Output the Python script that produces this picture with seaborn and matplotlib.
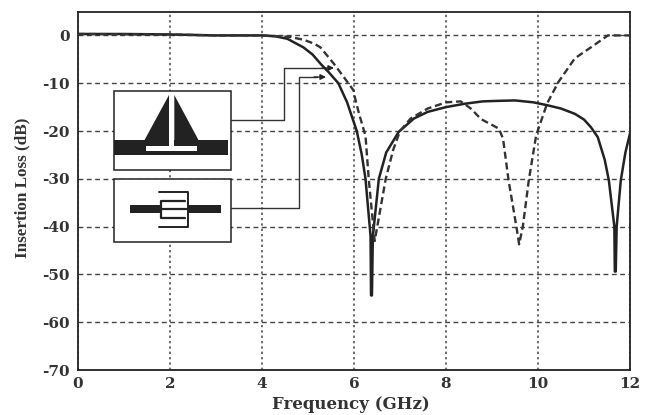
import matplotlib
matplotlib.use("Agg")
import matplotlib.pyplot as plt
import seaborn as sns
from matplotlib.patches import Polygon, Rectangle

freq_solid = [0, 1, 2, 3, 4, 4.3, 4.55, 4.9, 5.1, 5.27, 5.45, 5.66, 5.85, 6.06, 6.17, 6.25, 6.36, 6.37, 6.39, 6.41, 6.54, 6.7, 6.97, 7.3, 7.6,
              8, 8.4, 8.8, 9.1, 9.5, 9.9, 10.2, 10.5, 10.8, 11.0, 11.15, 11.3, 11.45, 11.54, 11.66, 11.67, 11.69, 11.71, 11.8, 11.9, 12]
loss_solid = [0.3, 0.3, 0.2, 0, 0, -0.2, -0.7, -2.5, -4, -5.9, -7.7, -10, -14, -20, -25, -30, -42, -54.4, -54.4, -42, -30, -24.5, -20.2, -17.4, -16,
              -15, -14.3, -13.8, -13.7, -13.6, -14, -14.6, -15.3, -16.4, -17.6, -19.2, -21.3, -26, -30.3, -40, -49.4, -49.4, -40, -30.3, -24.5, -20.5]

freq_dash = [0, 2, 3, 4, 4.6, 4.9, 5.13, 5.27, 5.56, 5.8, 5.99, 6.02, 6.11, 6.25, 6.32, 6.45, 6.69, 6.85, 7, 7.23, 7.6,
             8, 8.32, 8.54, 8.76, 9.15, 9.24, 9.36, 9.53, 9.59, 9.67, 9.8, 9.96, 10.2, 10.44, 10.8, 11.15, 11.52, 12]
loss_dash = [0.3, 0.2, 0, 0, -0.3, -0.9, -1.7, -2.5, -5.9, -9, -11.5, -13, -16.4, -21, -30, -43, -30, -24, -20, -17.4, -15.3,
             -14, -13.8, -15.3, -17.5, -19.5, -21.6, -30.3, -40, -43.7, -40, -30.3, -20.9, -14.2, -9.8, -4.8, -2.5, 0, 0]

x_ticks = [0, 2, 4, 6, 8, 10, 12]
y_ticks = [0, -10, -20, -30, -40, -50, -60, -70]

sns.set_style("white")
plt.rcParams["axes.unicode_minus"] = False

fig = plt.figure(figsize=(6.5, 4.15), dpi=100)
ax = fig.add_axes([78 / 650, 1 - 370 / 415, (630 - 78) / 650, (370 - 12) / 415])

sns.lineplot(x=freq_solid, y=loss_solid, ax=ax, color="#222222", lw=1.8, estimator=None, sort=False, zorder=4)
sns.lineplot(x=freq_dash, y=loss_dash, ax=ax, color="#333333", lw=1.7, estimator=None, sort=False, zorder=4,
             linestyle=(0, (3, 1.6)))

ax.set_xlim(0, 12)
ax.set_ylim(-70, 4.9)
ax.set_xticks(x_ticks)
ax.set_yticks(y_ticks)
ax.tick_params(axis="x", labelsize=11, pad=5, length=6, width=1, direction="in", color="#333333")
ax.tick_params(axis="y", labelsize=11, pad=6, length=0)
for lab in ax.get_xticklabels() + ax.get_yticklabels():
    lab.set_family("DejaVu Serif")
    lab.set_weight("bold")
    lab.set_color("#333333")

ax.xaxis.grid(True, color="#444444", lw=1.1, linestyle=(0, (1.5, 2)))
ax.yaxis.grid(True, color="#444444", lw=1.0, linestyle=(0, (3.5, 2.5)))
ax.set_axisbelow(True)
for s in ax.spines.values():
    s.set_color("#222222")
    s.set_linewidth(1.3)

ax.set_xlabel("Frequency (GHz)", family="DejaVu Serif", weight="bold", fontsize=12, color="#333333", va="center")
ax.xaxis.set_label_coords((351 - 78) / 552, (370 - 404) / 358)
ax.set_ylabel("Insertion Loss (dB)", family="Liberation Serif", weight="bold", fontsize=12.3, color="#333333", va="center")
ax.yaxis.set_label_coords((22 - 78) / 552, (370 - 188) / 358)

# overlay in pixel coordinates for the two circuit sketches and their arrows
ov = fig.add_axes([0, 0, 1, 1], facecolor="none", zorder=5)
ov.set_xlim(0, 650)
ov.set_ylim(415, 0)
ov.axis("off")

ink = "#222222"
ov.add_patch(Rectangle((113.5, 90.7), 117.5, 79.3, fc="white", ec=ink, lw=1.1))
ov.add_patch(Rectangle((113.5, 178.7), 117.5, 63, fc="white", ec=ink, lw=1.1))

# patch with stub
ov.add_patch(Rectangle((114, 140), 114, 14.7, fc=ink, ec="none"))
ov.add_patch(Polygon([(144, 141), (169, 95), (169, 141)], fc=ink, ec="none"))
ov.add_patch(Polygon([(174.3, 141), (174.3, 95), (199, 141)], fc=ink, ec="none"))
ov.add_patch(Rectangle((145.7, 145.7), 51.3, 5, fc="white", ec="none"))
ov.add_patch(Rectangle((169, 95), 5.3, 52, fc="white", ec="none"))

# interdigital sketch
ov.add_patch(Rectangle((129.7, 205.3), 30, 7.4, fc=ink, ec="none"))
ov.add_patch(Rectangle((188, 205.3), 32.7, 7.4, fc=ink, ec="none"))
ov.plot([159.3, 188.3, 188.3, 159.3], [191.7, 191.7, 226.7, 226.7], color=ink, lw=1.4)
ov.plot([185, 160.7, 160.7, 185], [201, 201, 217.7, 217.7], color=ink, lw=1.6)
ov.plot([160.7, 188], [209, 209], color=ink, lw=1.6)

# connectors
ov.plot([231, 284, 284, 325], [120, 120, 68, 68], color="#333333", lw=1.0)
ov.annotate("", xy=(334, 68), xytext=(322, 68), arrowprops=dict(arrowstyle="-|>", color=ink, lw=1.0, mutation_scale=8, shrinkA=0, shrinkB=0))
ov.plot([231, 299, 299, 317], [208, 208, 77, 77], color="#333333", lw=1.0)
ov.annotate("", xy=(326, 77), xytext=(314, 77), arrowprops=dict(arrowstyle="-|>", color=ink, lw=1.0, mutation_scale=8, shrinkA=0, shrinkB=0))

fig.savefig("out.png", dpi=100)
